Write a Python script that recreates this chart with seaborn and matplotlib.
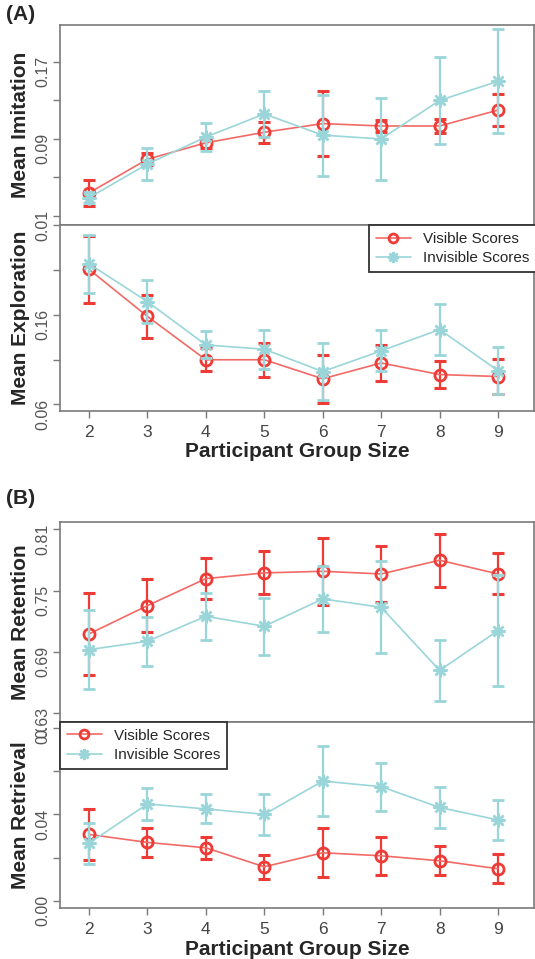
import matplotlib
matplotlib.use("Agg")
import matplotlib.pyplot as plt
from matplotlib.transforms import Bbox, TransformedBbox, blended_transform_factory
import pandas as pd
import seaborn as sns

# ---- data -------------------------------------------------------------
group_sizes = [2, 3, 4, 5, 6, 7, 8, 9]

imitation_visible = [0.034, 0.069, 0.086, 0.097, 0.106, 0.1035, 0.1035, 0.120]
imitation_visible_err = [0.0135, 0.006, 0.005, 0.011, 0.034, 0.006, 0.007, 0.017]
imitation_invisible = [0.029, 0.064, 0.092, 0.116, 0.094, 0.090, 0.130, 0.150]
imitation_invisible_err = [0.006, 0.0166, 0.015, 0.024, 0.042, 0.043, 0.045, 0.054]

exploration_visible = [0.2106, 0.1581, 0.1098, 0.1098, 0.0886, 0.1062, 0.0933, 0.0911]
exploration_visible_err = [0.037, 0.024, 0.013, 0.019, 0.027, 0.020, 0.015, 0.020]
exploration_invisible = [0.2167, 0.1746, 0.1263, 0.1215, 0.0966, 0.1197, 0.1435, 0.0977]
exploration_invisible_err = [0.032, 0.024, 0.015, 0.022, 0.032, 0.023, 0.028, 0.026]

retention_visible = [0.7076, 0.7353, 0.7617, 0.7673, 0.7689, 0.7663, 0.7797, 0.7663]
retention_visible_err = [0.040, 0.026, 0.020, 0.021, 0.033, 0.027, 0.026, 0.020]
retention_invisible = [0.6923, 0.7004, 0.7249, 0.7151, 0.7419, 0.7337, 0.6720, 0.7109]
retention_invisible_err = [0.039, 0.024, 0.023, 0.028, 0.032, 0.045, 0.030, 0.054]

retrieval_visible = [0.0307, 0.0270, 0.0245, 0.0157, 0.0222, 0.0208, 0.0185, 0.0148]
retrieval_visible_err = [0.012, 0.0066, 0.005, 0.0056, 0.0113, 0.0087, 0.0067, 0.0067]
retrieval_invisible = [0.0266, 0.0448, 0.0425, 0.0400, 0.0554, 0.0528, 0.0432, 0.0374]
retrieval_invisible_err = [0.0095, 0.0072, 0.0067, 0.0096, 0.0162, 0.0112, 0.0096, 0.0094]

series_labels = ["Visible Scores", "Invisible Scores"]

imitation_ticks = [0.01, 0.05, 0.09, 0.13, 0.17]
imitation_ticklabels = ["0.01", "", "0.09", "", "0.17"]
exploration_ticks = [0.06, 0.11, 0.16, 0.21, 0.26]
exploration_ticklabels = ["0.06", "", "0.16", "", ""]
retention_ticks = [0.63, 0.69, 0.75, 0.81]
retention_ticklabels = ["0.63", "0.69", "0.75", "0.81"]
retrieval_ticks = [0.00, 0.02, 0.04, 0.06, 0.08]
retrieval_ticklabels = ["0.00", "", "0.04", "", "0.08"]

# ---- style ------------------------------------------------------------
sns.set_style("white")
plt.rcParams["font.family"] = ["Liberation Sans", "DejaVu Sans"]

RED = "#EE3B36"
RED_LINE = "#F26A66"
CYAN = "#9AD6D9"
FRAME = "#7A7A7A"
TICKTXT = "#555555"
TICK_LEN = 5
TICK_PAD = 2

W, H = 535, 959
fig = plt.figure(figsize=(W / 100, H / 100), dpi=100)


def add_panel(top_px, bottom_px, left_px=60, right_px=534):
    return fig.add_axes([left_px / W, 1 - bottom_px / H,
                         (right_px - left_px) / W, (bottom_px - top_px) / H])


def draw_panel(ax, vis, vis_err, inv, inv_err):
    df = pd.DataFrame({"size": group_sizes * 2,
                       "score": list(vis) + list(inv),
                       "cond": [series_labels[0]] * 8 + [series_labels[1]] * 8})
    dv = df[df["cond"] == series_labels[0]]
    di = df[df["cond"] == series_labels[1]]

    ax.errorbar(group_sizes, vis, yerr=vis_err, fmt="none", ecolor=RED,
                elinewidth=1.6, capsize=4.5, capthick=2.2, zorder=2)
    sns.lineplot(data=dv, x="size", y="score", ax=ax, color=RED_LINE,
                 linewidth=1.2, marker="o", markersize=8,
                 markerfacecolor="none", markeredgecolor=RED,
                 markeredgewidth=2.0, label=series_labels[0], zorder=3)
    ax.errorbar(group_sizes, inv, yerr=inv_err, fmt="none", ecolor=CYAN,
                elinewidth=1.6, capsize=4.5, capthick=2.0, zorder=4)
    sns.lineplot(data=di, x="size", y="score", ax=ax, color=CYAN,
                 linewidth=1.2, marker=(8, 2, 0), markersize=10,
                 markeredgecolor=CYAN, markeredgewidth=1.8,
                 label=series_labels[1], zorder=5)

    ax.set_xlim(1.504, 9.616)
    ax.set_xlabel("")
    for sp in ax.spines.values():
        sp.set_visible(True)
        sp.set_color(FRAME)
        sp.set_linewidth(1.2)
    ax.tick_params(axis="y", left=True, length=TICK_LEN, width=1.0, color=FRAME,
                   labelsize=11.5, labelcolor=TICKTXT, labelrotation=90,
                   pad=TICK_PAD)
    if ax.get_legend() is not None:
        ax.get_legend().remove()


def set_xaxis(ax, show):
    ax.set_xticks(group_sizes)
    if show:
        ax.set_xticklabels([str(g) for g in group_sizes])
        ax.tick_params(axis="x", bottom=True, length=TICK_LEN, width=1.0,
                       color=FRAME, labelsize=12.5, labelcolor="#444444", pad=5)
        ax.set_xlabel("Participant Group Size", fontsize=15, fontweight="bold",
                      labelpad=2)
    else:
        ax.tick_params(axis="x", bottom=False, labelbottom=False)


def set_yaxis(ax, ticks, labels, lim, title, clip_top_px=None):
    ax.set_ylim(*lim)
    ax.set_yticks(ticks)
    shown = list(labels)
    if clip_top_px is not None:
        # the highest label runs into the panel above and is cut off there
        top_label = shown[-1]
        shown[-1] = ""
        trans = blended_transform_factory(ax.transAxes, ax.transData)
        off = (TICK_LEN + TICK_PAD) * 100 / 72 / ax.get_position().width / W
        t = ax.text(-off, ticks[-1], top_label, transform=trans, rotation=90,
                    ha="right", va="center", fontsize=11.5, color=TICKTXT)
        t.set_clip_box(TransformedBbox(Bbox([[0, 0], [1, 1 - clip_top_px / H]]),
                                       fig.transFigure))
        t.set_clip_on(True)
    ax.set_yticklabels(shown)
    ax.set_ylabel(title, fontsize=15, fontweight="bold")
    ax.yaxis.set_label_coords(-0.063, 0.5)


def legend_box(ax, anchor, loc):
    handles, labels = ax.get_legend_handles_labels()
    leg = ax.legend(handles, labels, loc=loc, bbox_to_anchor=anchor,
                    frameon=True, fancybox=False, framealpha=1,
                    edgecolor="#333333", fontsize=11, handlelength=2.3,
                    handletextpad=0.8, borderaxespad=0, borderpad=0.45,
                    labelspacing=0.35, markerscale=0.8)
    leg.get_frame().set_linewidth(1.3)
    leg.set_zorder(10)
    return leg


# ---- panel A ----------------------------------------------------------
ax_imi = add_panel(25, 225)
draw_panel(ax_imi, imitation_visible, imitation_visible_err,
           imitation_invisible, imitation_invisible_err)
set_yaxis(ax_imi, imitation_ticks, imitation_ticklabels, (0.00065, 0.2084),
          "Mean Imitation")
set_xaxis(ax_imi, False)

ax_exp = add_panel(225, 410.7)
draw_panel(ax_exp, exploration_visible, exploration_visible_err,
           exploration_invisible, exploration_invisible_err)
set_yaxis(ax_exp, exploration_ticks, exploration_ticklabels, (0.053, 0.257),
          "Mean Exploration")
set_xaxis(ax_exp, True)
legend_box(ax_exp, ((369 - 60) / 474, 1.0), "upper left")

# ---- panel B ----------------------------------------------------------
ax_ret = add_panel(522.3, 721.7)
draw_panel(ax_ret, retention_visible, retention_visible_err,
           retention_invisible, retention_invisible_err)
set_yaxis(ax_ret, retention_ticks, retention_ticklabels, (0.6218, 0.8168),
          "Mean Retention")
set_xaxis(ax_ret, False)

ax_rtv = add_panel(721.7, 908)
draw_panel(ax_rtv, retrieval_visible, retrieval_visible_err,
           retrieval_invisible, retrieval_invisible_err)
set_yaxis(ax_rtv, retrieval_ticks, retrieval_ticklabels, (-0.00338, 0.0829),
          "Mean Retrieval", clip_top_px=729)
set_xaxis(ax_rtv, True)
legend_box(ax_rtv, (0.0, 1.0), "upper left")

fig.text(6 / W, 1 - 15 / H, "(A)", fontsize=15, fontweight="bold",
         ha="left", va="center")
fig.text(6 / W, 1 - 498 / H, "(B)", fontsize=15, fontweight="bold",
         ha="left", va="center")

fig.savefig("out.png", dpi=100)
